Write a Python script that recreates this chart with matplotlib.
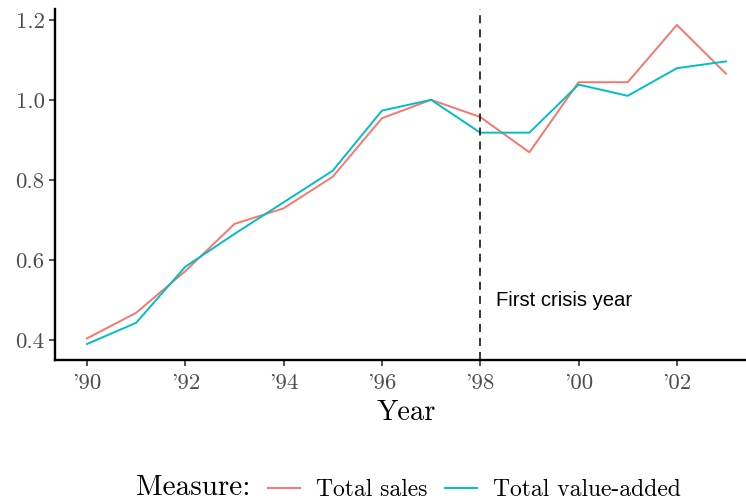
import matplotlib
matplotlib.use("Agg")
import matplotlib.pyplot as plt
from matplotlib.lines import Line2D

# index values (1997 = 1)
years = list(range(1990, 2004))
total_sales = [0.404, 0.468, 0.572, 0.690, 0.729, 0.808, 0.954, 1.000,
               0.957, 0.869, 1.044, 1.044, 1.187, 1.065]
total_value_added = [0.390, 0.443, 0.583, 0.665, 0.744, 0.823, 0.973, 1.000,
                     0.918, 0.918, 1.038, 1.010, 1.079, 1.096]
x_ticks = [1990, 1992, 1994, 1996, 1998, 2000, 2002]
x_labels = ["'90", "'92", "'94", "'96", "'98", "'00", "'02"]
y_ticks = [0.4, 0.6, 0.8, 1.0, 1.2]
y_labels = ["0.4", "0.6", "0.8", "1.0", "1.2"]
crisis_year = 1998

red = "#F8766D"
cyan = "#00BFC4"

plt.rcParams["font.family"] = "cmr10"
plt.rcParams["lines.scale_dashes"] = False

fig = plt.figure(figsize=(7.46, 5.01), dpi=100)
# panel runs a little past the right edge, as in the cropped original
ax = fig.add_axes([55 / 746, 141 / 501, 703 / 746, 351 / 501])

ax.plot(years, total_sales, color=red, lw=1.4, label="Total sales")
ax.plot(years, total_value_added, color=cyan, lw=1.4, label="Total value-added")
ax.margins(x=0.05, y=0.05)
ax.axvline(crisis_year, color="black", lw=1.1, dashes=(5.8, 4.3))
ax.text(1999.7, 0.5, "First crisis year", family="Liberation Sans", fontsize=14.6,
        ha="center", va="center")

ax.set_xticks(x_ticks)
ax.set_xticklabels(x_labels)
ax.set_yticks(y_ticks)
ax.set_yticklabels(y_labels)
ax.tick_params(length=4, width=1.2, color="#333333", labelcolor="#4D4D4D",
               labelsize=16.5, pad=3.5)
ax.tick_params(axis="x", pad=5.5)

for side in ["top", "right"]:
    ax.spines[side].set_visible(False)
for side in ["left", "bottom"]:
    ax.spines[side].set_linewidth(1.7)
    ax.spines[side].set_color("black")

ax.set_xlabel("Year", fontsize=20.5, labelpad=5)

fig.text(136 / 746, 1 - 495 / 501, "Measure:", fontsize=21, ha="left", va="baseline")
handles = [Line2D([], [], color=red, lw=1.4), Line2D([], [], color=cyan, lw=1.4)]
fig.legend(handles, ["Total sales", "Total value-added"], loc="center left",
           bbox_to_anchor=(268 / 746, 1 - 490 / 501), ncol=2, frameon=False,
           fontsize=17, handlelength=1.35, handletextpad=0.68,
           columnspacing=0.76, borderpad=0, borderaxespad=0)

fig.savefig("out.png", dpi=100)
